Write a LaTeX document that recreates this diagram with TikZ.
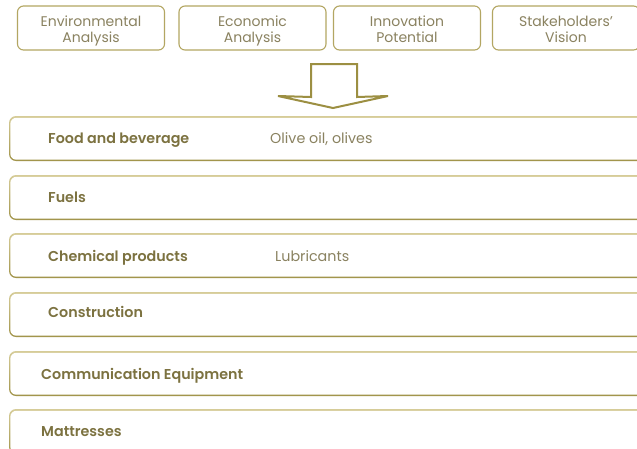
\documentclass[tikz,border=0pt]{standalone}
\usepackage{fontspec}
\setmainfont{Poppins}
\newfontfamily\boldfam{Poppins}[UprightFont=* SemiBold]
\definecolor{olive}{HTML}{9C8F42}
\definecolor{boxline}{HTML}{B3A662}
\definecolor{barlight}{HTML}{D6CC98}
\definecolor{bardark}{HTML}{A1944A}
\definecolor{txt}{HTML}{7C7240}
\definecolor{txtl}{HTML}{8A8260}
\tikzset{
  topbox/.style={draw=boxline, line width=1.1pt, rounded corners=6pt, fill=white,
    minimum width=147pt, minimum height=44pt, inner sep=0pt},
  toptext/.style={align=center, inner sep=0pt, text=txtl, font=\fontsize{14pt}{16pt}\selectfont},
  cat/.style={anchor=base west, text=txt, inner sep=0pt, font=\boldfam\fontsize{14.3pt}{17pt}\selectfont},
  item/.style={anchor=base west, text=txtl, inner sep=0pt, font=\fontsize{14.3pt}{17pt}\selectfont},
}
\begin{document}
\begin{tikzpicture}[x=1pt,y=-1pt]
\useasboundingbox (0,0) rectangle (637,448);
\clip (0,0) rectangle (637,448);
\fill[white] (0,0) rectangle (637,448);
% top boxes
\node[topbox] (env) at (91,28) {};
\node[topbox] (eco) at (252.5,28) {};
\node[topbox] (inn) at (407,28) {};
\node[topbox] (sta) at (566,28) {};
\node[toptext] (envt) at ([yshift=-3pt]env.center) {\strut Environmental\\\strut Analysis};
\node[toptext] (ecot) at ([yshift=-3pt]eco.center) {\strut Economic\\\strut Analysis};
\node[toptext] (innt) at ([yshift=-3pt]inn.center) {\strut Innovation\\\strut Potential};
\node[toptext] (stat) at ([yshift=-3pt]sta.center) {\strut Stakeholders'\\\strut Vision};
% arrow
\draw[olive, line width=2pt, fill=white, line join=miter]
  (311,64) -- (357,64) -- (357,97) -- (388,96) -- (333,108) -- (278,96) -- (311,97) -- cycle;
% bars
\foreach \y/\n in {116/b1,175/b2,233/b3,292/b4,351/b5,409/b6}{
  \shade[top color=barlight, bottom color=bardark, rounded corners=7pt]
    (9,\y) rectangle (680,\y+45);
  \fill[white, rounded corners=6pt] (10.3,\y+1.8) rectangle (679,\y+43.7);
  \coordinate (\n) at (9,\y+22.5);
}
\node[cat] (c1) at (48,143.5) {Food and beverage};
\node[item] (i1) at (270,143.5) {Olive oil, olives};
\node[cat] (c2) at (48,202.5) {Fuels};
\node[cat] (c3) at (48,261) {Chemical products};
\node[item] (i3) at (275,261) {Lubricants};
\node[cat] (c4) at (48,317) {Construction};
\node[cat] (c5) at (41,379) {Communication Equipment};
\node[cat] (c6) at (41,436) {Mattresses};
\end{tikzpicture}
\end{document}
